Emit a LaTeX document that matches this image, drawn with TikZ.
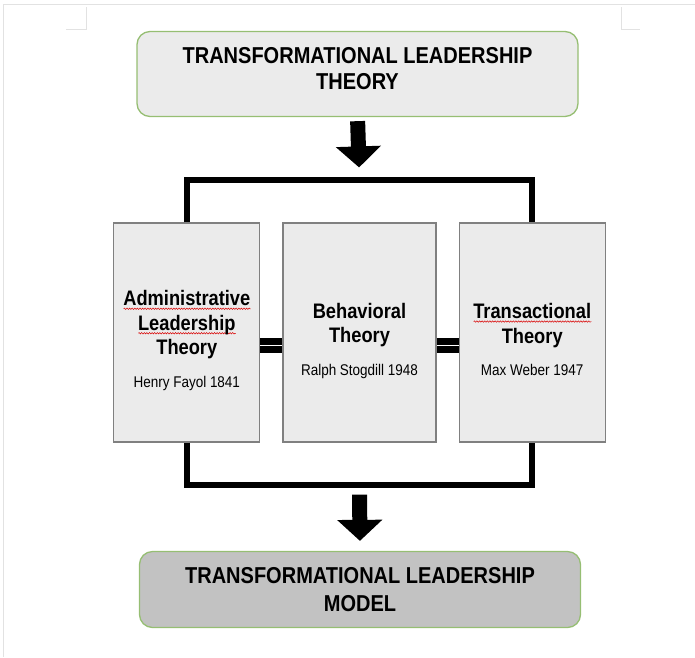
\documentclass[tikz,border=0pt]{standalone}
\usepackage{fontspec}
\setmainfont{Liberation Sans}[FakeStretch=0.87]
\usetikzlibrary{positioning, arrows.meta, decorations.pathmorphing}

% red spell-check wave under a word
\newlength{\wavelen}
\newcommand{\redwave}[1]{\settowidth{\wavelen}{#1}\rlap{\tikz[baseline=0pt]\draw[red!85!black, line width=0.5pt, decorate, decoration={snake, amplitude=0.7pt, segment length=2.6pt}] (0pt,-3pt) -- (\wavelen,-3pt);}#1}

\definecolor{boxgreen}{RGB}{150,190,115}
\definecolor{lightfill}{RGB}{235,235,235}
\definecolor{darkfill}{RGB}{194,194,194}
\definecolor{edgegray}{RGB}{128,128,128}
\definecolor{pagegray}{RGB}{226,226,226}

\begin{document}
\begin{tikzpicture}[
        x=1pt, y=1pt,
        node distance=22pt,
        headbox/.style={rectangle, draw=boxgreen, line width=1.3pt, rounded corners=13pt, fill=lightfill, minimum width=441pt, minimum height=85pt, inner sep=0pt},
        headtext/.style={align=center, inner sep=0pt, font=\bfseries\fontsize{23}{26.5}\selectfont},
        theory/.style={rectangle, draw=edgegray, line width=1.2pt, fill=lightfill, minimum height=219pt, inner sep=0pt},
        theorytext/.style={align=center, inner sep=0pt, font=\bfseries\fontsize{21}{24.5}\selectfont},
        bracket/.style={line width=6pt, line join=miter},
        link/.style={double=white, line width=7pt, double distance=1.2pt},
        bigarrow/.style={line width=15pt, -{Triangle[width=44pt, length=21pt]}}
    ]
    \useasboundingbox (0,0) rectangle (695,-657);

    % page edges and corner marks
    \draw[pagegray, line width=1pt] (3,-657) -- (3,-4) -- (695,-4);
    \draw[pagegray, line width=1pt] (66,-29) -- (86,-29) -- (86,-7);
    \draw[pagegray, line width=1pt] (621,-7) -- (621,-29) -- (640,-29);

    \node[headbox] (theory) at (357.5,-74) {};
    \node[headtext] (theorytitle) at ([yshift=5.5pt]theory.center) {TRANSFORMATIONAL LEADERSHIP\\THEORY};

    \node[theory, minimum width=153pt] (behav) at (359.5,-332.5) {};
    \node[theory, minimum width=146pt, left=of behav] (admin) {};
    \node[theory, minimum width=146pt, right=of behav] (trans) {};

    \node[theorytext] (behavtext) at ([yshift=-8pt]behav.center) {Behavioral\\Theory\\[8pt]{\mdseries\fontsize{15.5}{16}\selectfont Ralph Stogdill 1948}};
    \node[theorytext] (admintext) at ([yshift=-8pt]admin.center) {\redwave{Administrative}\\\redwave{Leadership}\\Theory\\[8pt]{\mdseries\fontsize{15.5}{16}\selectfont Henry Fayol 1841}};
    \node[theorytext] (transtext) at ([yshift=-7pt]trans.center) {\redwave{Transactional}\\Theory\\[8pt]{\mdseries\fontsize{15.5}{16}\selectfont Max Weber 1947}};

    \node[headbox, fill=darkfill, minimum height=76pt] (model) at (360,-589.5) {};
    \node[headtext, font=\bfseries\fontsize{23}{28.5}\selectfont] (modeltitle) at (model.center) {TRANSFORMATIONAL LEADERSHIP\\MODEL};

    \coordinate (topbar) at ([yshift=42pt]behav.north);
    \coordinate (botbar) at ([yshift=-42pt]behav.south);

    \draw[bigarrow, shorten <=4pt, shorten >=13pt] (theory.south) -- (topbar);
    \draw[bracket] (admin.north) |- (topbar) -| (trans.north);
    \draw[bracket] (admin.south) |- (botbar) -| (trans.south);
    \draw[bigarrow, shorten <=10pt, shorten >=10pt] (botbar) -- (model.north);

    \draw[link] ([yshift=-13pt]admin.east) -- ([yshift=-13pt]behav.west);
    \draw[link] ([yshift=-13pt]behav.east) -- ([yshift=-13pt]trans.west);

\end{tikzpicture}
\end{document}
